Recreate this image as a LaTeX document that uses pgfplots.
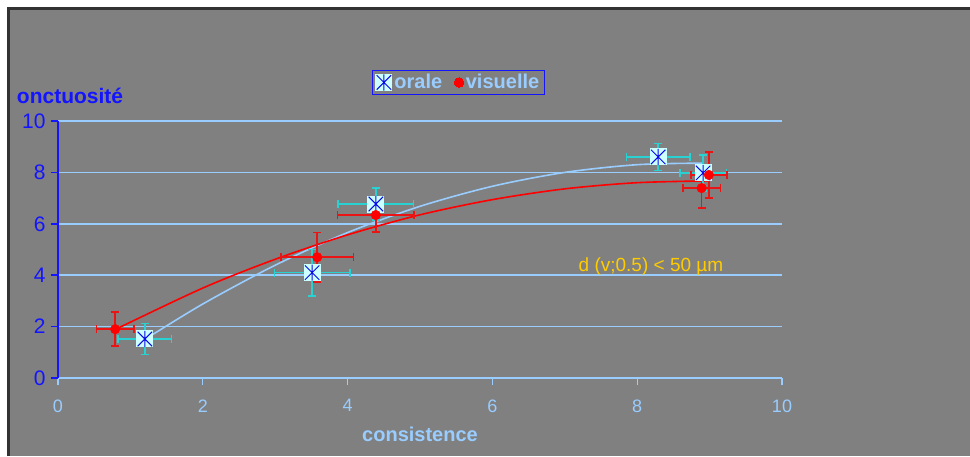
\documentclass[border=0pt]{standalone}
\usepackage{pgfplots}
\pgfplotsset{compat=1.18}
\usepackage{fontspec}
\setmainfont{Liberation Sans}

\definecolor{bggray}{RGB}{128,128,128}
\definecolor{frame}{RGB}{51,51,51}
\definecolor{paleblue}{RGB}{153,204,255}
\definecolor{axblue}{RGB}{20,20,255}
\definecolor{starblue}{RGB}{10,10,230}
\definecolor{sqfill}{RGB}{204,255,255}
\definecolor{turq}{RGB}{40,210,210}
\definecolor{gold}{RGB}{255,204,0}
\definecolor{ebred}{RGB}{235,20,20}

% Excel-like marker: pale square with an asterisk on it
\pgfdeclareplotmark{xsq}{%
  \pgfsetfillcolor{sqfill}%
  \pgfpathrectangle{\pgfqpoint{-\pgfplotmarksize}{-\pgfplotmarksize}}{\pgfqpoint{2\pgfplotmarksize}{2\pgfplotmarksize}}%
  \pgfusepath{fill}%
  \pgfsetstrokecolor{starblue}%
  \pgfsetlinewidth{1pt}%
  \pgfpathmoveto{\pgfqpoint{-0.85\pgfplotmarksize}{-0.85\pgfplotmarksize}}%
  \pgfpathlineto{\pgfqpoint{0.85\pgfplotmarksize}{0.85\pgfplotmarksize}}%
  \pgfpathmoveto{\pgfqpoint{-0.85\pgfplotmarksize}{0.85\pgfplotmarksize}}%
  \pgfpathlineto{\pgfqpoint{0.85\pgfplotmarksize}{-0.85\pgfplotmarksize}}%
  \pgfpathmoveto{\pgfqpoint{0pt}{-0.95\pgfplotmarksize}}%
  \pgfpathlineto{\pgfqpoint{0pt}{0.95\pgfplotmarksize}}%
  \pgfusepath{stroke}%
}

\begin{document}
\begin{tikzpicture}
% page and chart area
\path[use as bounding box] (-58pt,-78pt) rectangle (912pt,378pt);
\fill[white] (-58pt,-78pt) rectangle (912pt,378pt);
\fill[bggray] (-51pt,-78pt) rectangle (912pt,371pt);
\draw[frame, line width=3pt] (-49.5pt,-78pt) -- (-49.5pt,369.5pt) -- (912pt,369.5pt);

\begin{axis}[
    at={(0pt,0pt)}, anchor=origin,
    scale only axis,
    width=724pt, height=257pt,
    xmin=0, xmax=10, ymin=0, ymax=10,
    xtick={0,2,4,6,8,10},
    ytick={0,2,4,6,8,10},
    axis x line=bottom, axis y line=left,
    x axis line style={-, draw=paleblue, line width=1.6pt},
    y axis line style={-, draw=axblue, line width=2pt},
    tick align=outside,
    major tick length=7pt,
    x tick style={paleblue, line width=1.2pt},
    y tick style={axblue, line width=1.5pt},
    ymajorgrids=true,
    grid style={paleblue, line width=1.5pt},
    /pgf/number format/assume math mode=true,
    x tick label style={font=\fontsize{18}{18}\selectfont, text=paleblue, yshift=-11pt},
    y tick label style={font=\fontsize{21}{21}\selectfont, text=axblue, xshift=-2pt},
    xlabel={consistence},
    xlabel style={font=\bfseries\fontsize{20}{20}\selectfont, text=paleblue,
        at={(axis description cs:0.5,-0.249)}, anchor=base},
    ylabel={onctuosité},
    ylabel style={rotate=-90, font=\bfseries\fontsize{21}{21}\selectfont, text=axblue,
        at={(axis description cs:0.0166,1.07)}, anchor=base},
    legend columns=-1,
    legend style={at={(axis description cs:0.553,1.15)}, anchor=center,
        draw=axblue, line width=1.4pt, fill=bggray, text=paleblue,
        font=\bfseries\fontsize{20}{20}\selectfont, inner xsep=3pt, inner ysep=2pt,
        /tikz/every odd column/.append style={column sep=0pt},
        /tikz/every even column/.append style={column sep=10pt}},
    legend image code/.code={\draw[#1, line width=0pt] plot coordinates {(0.3em,0cm)};},
    clip=false,
]

% polynomial trend lines
\addplot[paleblue, line width=1.6pt, smooth, forget plot] coordinates {
 (1.2,1.50) (2,2.88) (3,4.39) (4,5.66) (5,6.68) (6,7.46) (7,8.00) (8,8.30) (8.9,8.36)
};
\addplot[red, line width=1.6pt, smooth, forget plot] coordinates {
 (0.8,1.90) (2,3.50) (3,4.62) (4,5.57) (5,6.35) (6,6.94) (7,7.36) (8,7.60) (9,7.67)
};

% orale
\addplot[only marks, mark=xsq, mark size=8.5pt,
    error bars/.cd, x dir=both, x explicit, y dir=both, y explicit,
    error bar style={draw=turq, line width=1.5pt},
    error mark options={draw=turq, line width=1.5pt, mark size=4pt, rotate=90}]
 table[x=x, y=y, x error=ex, y error=ey] {
 x    y    ex   ey
 1.20 1.52 0.37 0.60
 3.51 4.10 0.52 0.90
 4.39 6.77 0.52 0.63
 8.29 8.60 0.44 0.52
 8.91 7.98 0.32 0.70
};
\addlegendentry{orale}

% visuelle
\addplot[only marks, mark=*, mark size=4.8pt, mark options={draw=red, fill=red},
    error bars/.cd, x dir=both, x explicit, y dir=both, y explicit,
    error bar style={draw=ebred, line width=1.5pt},
    error mark options={draw=ebred, line width=1.5pt, mark size=4pt, rotate=90}]
 table[x=x, y=y, x error=ex, y error=ey] {
 x    y    ex   ey
 0.79 1.90 0.26 0.66
 3.58 4.70 0.50 0.97
 4.39 6.34 0.53 0.66
 8.99 7.90 0.25 0.90
 8.89 7.39 0.26 0.78
};
\addlegendentry{visuelle}

\node[anchor=base, text=gold, font=\fontsize{19}{19}\selectfont] at (axis cs:8.19,4.16) {d (v;0.5) < 50 µm};
\end{axis}
\end{tikzpicture}
\end{document}
